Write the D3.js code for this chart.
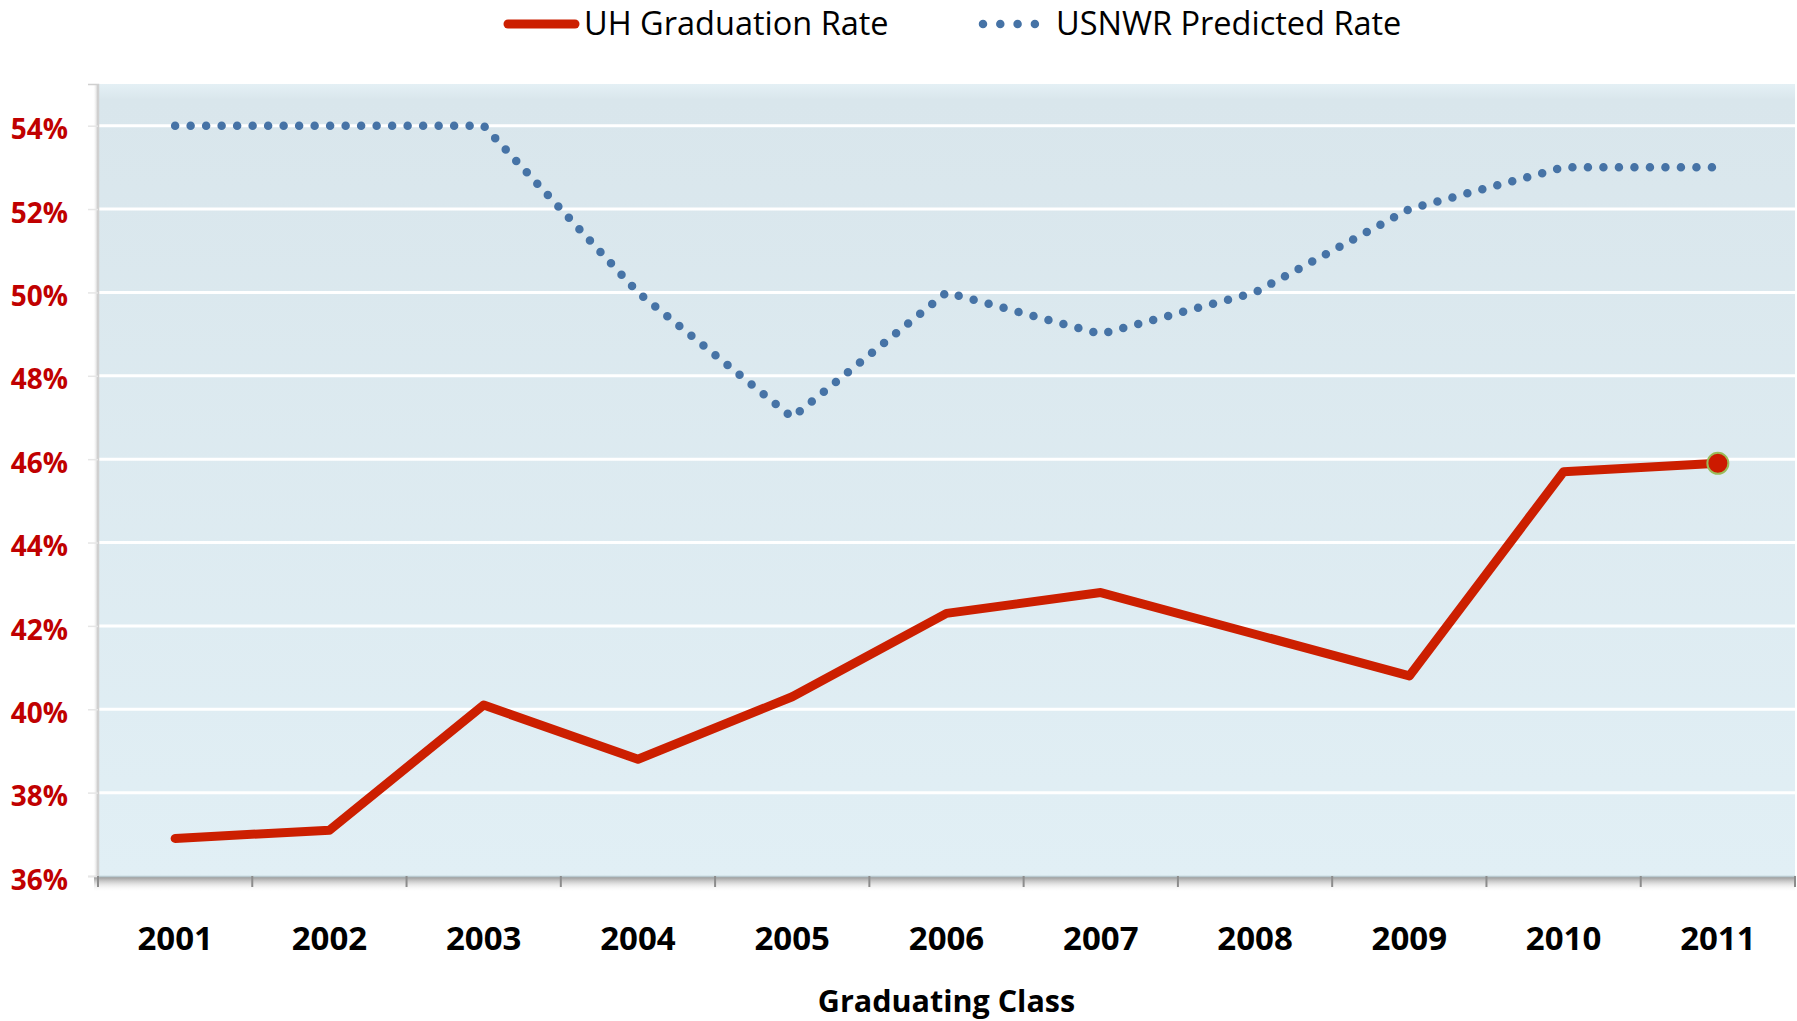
<!DOCTYPE html>
<html>
<head>
<meta charset="utf-8">
<script src="https://cdn.jsdelivr.net/npm/d3@7"></script>
<style>
  body { margin: 0; background: #fff; }
  text { font-family: "Open Sans", sans-serif; }
</style>
</head>
<body>
<svg id="chart"></svg>
<script>
// data
const years = ["2001","2002","2003","2004","2005","2006","2007","2008","2009","2010","2011"];
const uhRate = [36.9, 37.1, 40.1, 38.8, 40.3, 42.3, 42.8, 41.8, 40.8, 45.7, 45.9];
const usnwrRate = [54, 54, 54, 50, 47, 50, 49, 50, 52, 53, 53];
const yTicks = [36, 38, 40, 42, 44, 46, 48, 50, 52, 54];

const svgWidth = 1797, svgHeight = 1021;
const margin = {top: 84, right: 2, bottom: 145, left: 98};
const width = svgWidth - margin.left - margin.right,
      height = svgHeight - margin.top - margin.bottom;

const chart = d3.select("#chart")
    .attr("width", svgWidth)
    .attr("height", svgHeight);

const defs = chart.append("defs");
const bg = defs.append("linearGradient").attr("id", "bg")
    .attr("x1", 0).attr("y1", 0).attr("x2", 0).attr("y2", 1);
bg.append("stop").attr("offset", "0%").attr("stop-color", "#e4f0f5");
bg.append("stop").attr("offset", "2%").attr("stop-color", "#d9e6ec");
bg.append("stop").attr("offset", "100%").attr("stop-color", "#e1eff5");

const shadowB = defs.append("linearGradient").attr("id", "shadowB")
    .attr("x1", 0).attr("y1", 0).attr("x2", 0).attr("y2", 1);
shadowB.append("stop").attr("offset", "0%").attr("stop-color", "#7d7d7d").attr("stop-opacity", 0.9);
shadowB.append("stop").attr("offset", "100%").attr("stop-color", "#ffffff").attr("stop-opacity", 0);

const shadowL = defs.append("linearGradient").attr("id", "shadowL")
    .attr("x1", 1).attr("y1", 0).attr("x2", 0).attr("y2", 0);
shadowL.append("stop").attr("offset", "0%").attr("stop-color", "#bdbdbd").attr("stop-opacity", 0.9);
shadowL.append("stop").attr("offset", "100%").attr("stop-color", "#ffffff").attr("stop-opacity", 0);

const g = chart.append("g")
    .attr("transform", "translate(" + margin.left + "," + margin.top + ")");

// scales
const xScale = d3.scaleBand().domain(years).range([0, width]);
const yScale = d3.scaleLinear().domain([36, 55]).range([height, 0]);

// plot area background + shadows
g.append("rect")
    .attr("x", -5).attr("y", 0).attr("width", 5).attr("height", height)
    .attr("fill", "url(#shadowL)");
g.append("rect")
    .attr("x", 0).attr("y", 0).attr("width", width).attr("height", height)
    .attr("fill", "url(#bg)");
g.append("rect")
    .attr("x", -4).attr("y", height).attr("width", width + 4).attr("height", 16)
    .attr("fill", "url(#shadowB)");

// gridlines
g.append("g").selectAll("line")
    .data(yTicks.filter(d => d > 36))
    .enter().append("line")
    .attr("x1", 0).attr("x2", width)
    .attr("y1", d => yScale(d)).attr("y2", d => yScale(d))
    .attr("stroke", "#ffffff").attr("stroke-width", 3);

// y axis
const yAxis = d3.axisLeft(yScale).tickValues(yTicks)
    .tickSize(10).tickPadding(20)
    .tickFormat(d => d + "%");
const yg = g.append("g").call(yAxis);
yg.select(".domain").attr("stroke", "#d0d0d0").attr("stroke-width", 1.5);
yg.selectAll(".tick line").attr("stroke", "#e6e6e6").attr("stroke-width", 1.5);
yg.selectAll(".tick text")
    .attr("fill", "#c00000")
    .style("font-size", "28px")
    .style("font-weight", "bold")
    .attr("x", -30)
    .attr("dy", "0.47em");

// x axis
const xAxis = d3.axisBottom(xScale).tickSize(0).tickPadding(51);
const xg = g.append("g").attr("transform", "translate(0," + height + ")").call(xAxis);
xg.select(".domain").attr("stroke", "#b9c9d0").attr("stroke-width", 1.5);
xg.selectAll(".tick text")
    .attr("fill", "#000")
    .style("font-size", "33px")
    .style("font-weight", "bold");
// tick marks at category boundaries
g.append("g").selectAll("line")
    .data(years.concat(["end"]))
    .enter().append("line")
    .attr("x1", (d, i) => i < years.length ? xScale(d) : width)
    .attr("x2", (d, i) => i < years.length ? xScale(d) : width)
    .attr("y1", height).attr("y2", height + 11)
    .attr("stroke", "#8c8c8c").attr("stroke-width", 2);

g.append("text")
    .attr("x", width / 2).attr("y", height + 136)
    .attr("text-anchor", "middle")
    .style("font-size", "30.5px")
    .style("font-weight", "bold")
    .text("Graduating Class");

// lines
const line = d3.line()
    .x((d, i) => xScale(years[i]) + xScale.bandwidth() / 2)
    .y(d => yScale(d));

g.append("path")
    .datum(usnwrRate)
    .attr("d", line)
    .attr("fill", "none")
    .attr("stroke", "#4673a6")
    .attr("stroke-width", 8.5)
    .attr("stroke-linecap", "round")
    .attr("stroke-dasharray", "0 15.5");

g.append("path")
    .datum(uhRate)
    .attr("d", line)
    .attr("fill", "none")
    .attr("stroke", "#cc1f00")
    .attr("stroke-width", 9)
    .attr("stroke-linecap", "round")
    .attr("stroke-linejoin", "round");

const last = uhRate.length - 1;
g.append("circle")
    .attr("cx", xScale(years[last]) + xScale.bandwidth() / 2)
    .attr("cy", yScale(uhRate[last]))
    .attr("r", 10.5)
    .attr("fill", "#cc1a00")
    .attr("stroke", "#9bbb59")
    .attr("stroke-width", 2);

// legend
const legend = chart.append("g");
legend.append("line")
    .attr("x1", 508).attr("x2", 575).attr("y1", 24).attr("y2", 24)
    .attr("stroke", "#cc1f00").attr("stroke-width", 9).attr("stroke-linecap", "round");
legend.append("text")
    .attr("x", 584).attr("y", 24).attr("dy", "0.35em")
    .style("font-size", "32.5px")
    .text("UH Graduation Rate");
legend.append("line")
    .attr("x1", 983).attr("x2", 1035).attr("y1", 24).attr("y2", 24)
    .attr("stroke", "#4673a6").attr("stroke-width", 8.5)
    .attr("stroke-linecap", "round").attr("stroke-dasharray", "0 17.3");
legend.append("text")
    .attr("x", 1056).attr("y", 24).attr("dy", "0.35em")
    .style("font-size", "32.5px")
    .text("USNWR Predicted Rate");
</script>
</body>
</html>
